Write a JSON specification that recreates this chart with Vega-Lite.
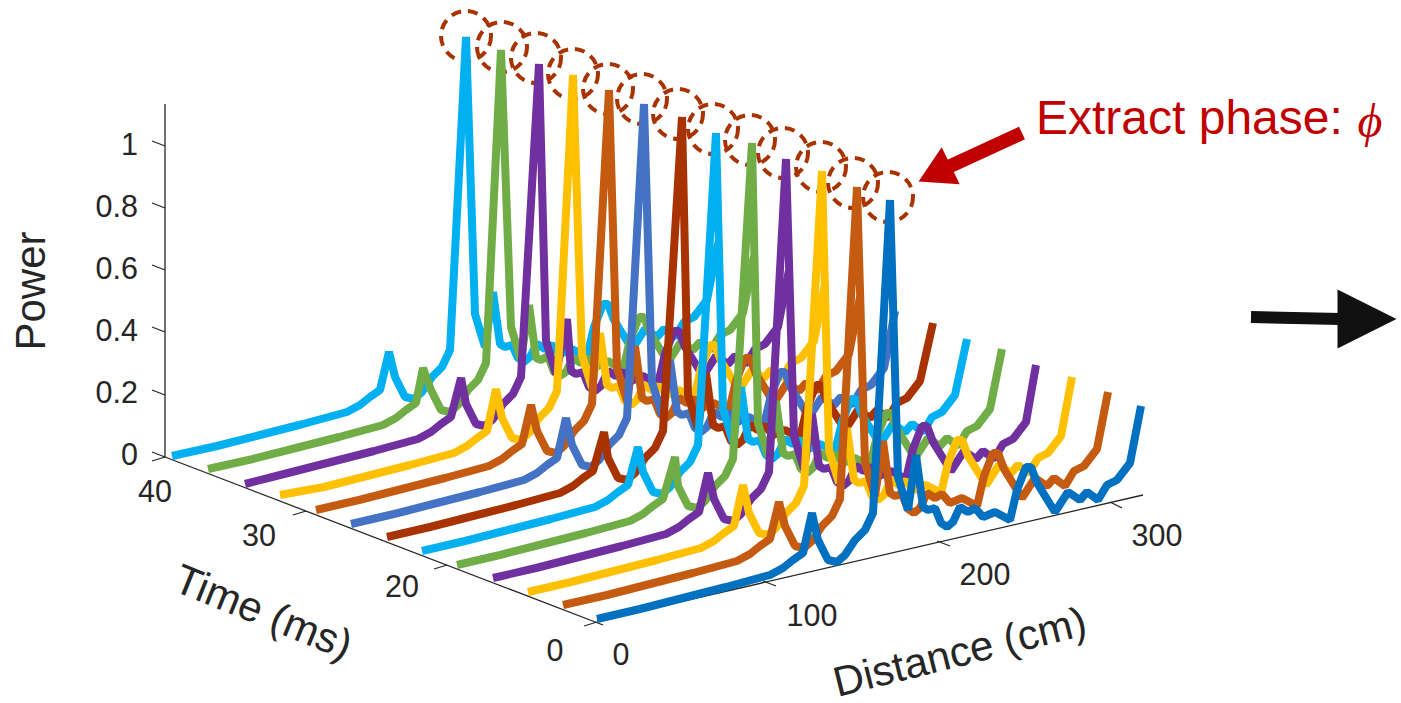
{"$schema":"https://vega.github.io/schema/vega-lite/v6.json","width":1401,"height":703,"padding":0,"autosize":{"type":"none"},"background":"white","config":{"view":{"stroke":null},"text":{"font":"Liberation Sans"}},
"datasets":{
"spectra":[
{"s":1,"x":172,"y":456},{"s":1,"x":217,"y":446},{"s":1,"x":260,"y":435},{"s":1,"x":303,"y":424},{"s":1,"x":347,"y":412},{"s":1,"x":360,"y":405},{"s":1,"x":370,"y":397},{"s":1,"x":380,"y":390},{"s":1,"x":389,"y":352},{"s":1,"x":395,"y":377},{"s":1,"x":405,"y":397},{"s":1,"x":414,"y":399},{"s":1,"x":422,"y":392},{"s":1,"x":432,"y":377},{"s":1,"x":442,"y":367},{"s":1,"x":450,"y":350},{"s":1,"x":466,"y":37},{"s":1,"x":475,"y":314},{"s":1,"x":485,"y":347},{"s":1,"x":493,"y":292},{"s":1,"x":500,"y":344},{"s":1,"x":505,"y":347},{"s":1,"x":512,"y":345},{"s":1,"x":518,"y":358},{"s":1,"x":524,"y":362},{"s":1,"x":530,"y":357},{"s":1,"x":537,"y":344},{"s":1,"x":545,"y":349},{"s":1,"x":552,"y":345},{"s":1,"x":560,"y":354},{"s":1,"x":572,"y":349},{"s":1,"x":587,"y":357},{"s":1,"x":594,"y":327},{"s":1,"x":603,"y":304},{"s":1,"x":608,"y":304},{"s":1,"x":614,"y":320},{"s":1,"x":632,"y":349},{"s":1,"x":645,"y":329},{"s":1,"x":657,"y":337},{"s":1,"x":664,"y":329},{"s":1,"x":675,"y":337},{"s":1,"x":684,"y":322},{"s":1,"x":694,"y":317},{"s":1,"x":707,"y":300},{"s":1,"x":718,"y":243},
{"s":2,"x":208,"y":469},{"s":2,"x":253,"y":459},{"s":2,"x":296,"y":448},{"s":2,"x":339,"y":437},{"s":2,"x":383,"y":425},{"s":2,"x":396,"y":418},{"s":2,"x":406,"y":410},{"s":2,"x":416,"y":403},{"s":2,"x":423,"y":368},{"s":2,"x":431,"y":390},{"s":2,"x":441,"y":410},{"s":2,"x":450,"y":412},{"s":2,"x":458,"y":405},{"s":2,"x":468,"y":390},{"s":2,"x":478,"y":380},{"s":2,"x":486,"y":363},{"s":2,"x":501,"y":50},{"s":2,"x":511,"y":327},{"s":2,"x":521,"y":360},{"s":2,"x":529,"y":305},{"s":2,"x":536,"y":358},{"s":2,"x":541,"y":360},{"s":2,"x":548,"y":356},{"s":2,"x":554,"y":372},{"s":2,"x":560,"y":376},{"s":2,"x":566,"y":372},{"s":2,"x":573,"y":358},{"s":2,"x":581,"y":363},{"s":2,"x":588,"y":358},{"s":2,"x":596,"y":367},{"s":2,"x":608,"y":361},{"s":2,"x":623,"y":370},{"s":2,"x":630,"y":340},{"s":2,"x":639,"y":317},{"s":2,"x":644,"y":317},{"s":2,"x":650,"y":333},{"s":2,"x":668,"y":362},{"s":2,"x":681,"y":342},{"s":2,"x":693,"y":350},{"s":2,"x":700,"y":342},{"s":2,"x":711,"y":350},{"s":2,"x":720,"y":335},{"s":2,"x":730,"y":330},{"s":2,"x":743,"y":313},{"s":2,"x":754,"y":256},
{"s":3,"x":245,"y":484},{"s":3,"x":288,"y":473},{"s":3,"x":331,"y":462},{"s":3,"x":374,"y":451},{"s":3,"x":418,"y":439},{"s":3,"x":431,"y":432},{"s":3,"x":441,"y":424},{"s":3,"x":451,"y":417},{"s":3,"x":461,"y":378},{"s":3,"x":466,"y":404},{"s":3,"x":476,"y":424},{"s":3,"x":485,"y":426},{"s":3,"x":493,"y":419},{"s":3,"x":503,"y":404},{"s":3,"x":513,"y":394},{"s":3,"x":521,"y":377},{"s":3,"x":539,"y":64},{"s":3,"x":546,"y":341},{"s":3,"x":556,"y":374},{"s":3,"x":567,"y":319},{"s":3,"x":571,"y":371},{"s":3,"x":576,"y":374},{"s":3,"x":583,"y":372},{"s":3,"x":589,"y":387},{"s":3,"x":595,"y":391},{"s":3,"x":601,"y":386},{"s":3,"x":608,"y":371},{"s":3,"x":616,"y":376},{"s":3,"x":623,"y":372},{"s":3,"x":631,"y":381},{"s":3,"x":643,"y":376},{"s":3,"x":658,"y":384},{"s":3,"x":665,"y":354},{"s":3,"x":674,"y":331},{"s":3,"x":679,"y":331},{"s":3,"x":685,"y":347},{"s":3,"x":703,"y":376},{"s":3,"x":716,"y":356},{"s":3,"x":728,"y":364},{"s":3,"x":735,"y":356},{"s":3,"x":746,"y":364},{"s":3,"x":755,"y":349},{"s":3,"x":765,"y":344},{"s":3,"x":778,"y":327},{"s":3,"x":789,"y":270},
{"s":4,"x":280,"y":495},{"s":4,"x":324,"y":487},{"s":4,"x":367,"y":476},{"s":4,"x":410,"y":465},{"s":4,"x":454,"y":453},{"s":4,"x":467,"y":446},{"s":4,"x":477,"y":438},{"s":4,"x":487,"y":431},{"s":4,"x":496,"y":389},{"s":4,"x":502,"y":418},{"s":4,"x":512,"y":438},{"s":4,"x":521,"y":440},{"s":4,"x":529,"y":433},{"s":4,"x":539,"y":418},{"s":4,"x":549,"y":408},{"s":4,"x":557,"y":391},{"s":4,"x":573,"y":75},{"s":4,"x":582,"y":355},{"s":4,"x":592,"y":388},{"s":4,"x":600,"y":333},{"s":4,"x":607,"y":385},{"s":4,"x":612,"y":388},{"s":4,"x":619,"y":386},{"s":4,"x":625,"y":401},{"s":4,"x":631,"y":405},{"s":4,"x":637,"y":400},{"s":4,"x":644,"y":385},{"s":4,"x":652,"y":390},{"s":4,"x":659,"y":386},{"s":4,"x":667,"y":395},{"s":4,"x":679,"y":390},{"s":4,"x":694,"y":398},{"s":4,"x":701,"y":368},{"s":4,"x":710,"y":345},{"s":4,"x":715,"y":345},{"s":4,"x":721,"y":361},{"s":4,"x":739,"y":390},{"s":4,"x":752,"y":370},{"s":4,"x":764,"y":378},{"s":4,"x":771,"y":370},{"s":4,"x":782,"y":378},{"s":4,"x":791,"y":363},{"s":4,"x":801,"y":358},{"s":4,"x":814,"y":341},{"s":4,"x":825,"y":284},
{"s":5,"x":316,"y":510},{"s":5,"x":359,"y":500},{"s":5,"x":402,"y":489},{"s":5,"x":445,"y":478},{"s":5,"x":489,"y":466},{"s":5,"x":502,"y":459},{"s":5,"x":512,"y":451},{"s":5,"x":522,"y":444},{"s":5,"x":531,"y":405},{"s":5,"x":537,"y":431},{"s":5,"x":547,"y":451},{"s":5,"x":556,"y":453},{"s":5,"x":564,"y":446},{"s":5,"x":574,"y":431},{"s":5,"x":584,"y":421},{"s":5,"x":592,"y":404},{"s":5,"x":609,"y":90},{"s":5,"x":617,"y":368},{"s":5,"x":627,"y":401},{"s":5,"x":635,"y":346},{"s":5,"x":642,"y":398},{"s":5,"x":647,"y":401},{"s":5,"x":654,"y":399},{"s":5,"x":660,"y":414},{"s":5,"x":666,"y":418},{"s":5,"x":672,"y":413},{"s":5,"x":679,"y":398},{"s":5,"x":687,"y":403},{"s":5,"x":694,"y":399},{"s":5,"x":702,"y":408},{"s":5,"x":714,"y":403},{"s":5,"x":729,"y":411},{"s":5,"x":736,"y":381},{"s":5,"x":745,"y":358},{"s":5,"x":750,"y":358},{"s":5,"x":756,"y":374},{"s":5,"x":774,"y":403},{"s":5,"x":787,"y":383},{"s":5,"x":799,"y":391},{"s":5,"x":806,"y":383},{"s":5,"x":817,"y":391},{"s":5,"x":826,"y":376},{"s":5,"x":836,"y":371},{"s":5,"x":849,"y":354},{"s":5,"x":860,"y":297},
{"s":6,"x":351,"y":524},{"s":6,"x":394,"y":514},{"s":6,"x":437,"y":503},{"s":6,"x":480,"y":492},{"s":6,"x":524,"y":480},{"s":6,"x":537,"y":473},{"s":6,"x":547,"y":465},{"s":6,"x":557,"y":458},{"s":6,"x":566,"y":418},{"s":6,"x":572,"y":445},{"s":6,"x":582,"y":465},{"s":6,"x":591,"y":467},{"s":6,"x":599,"y":460},{"s":6,"x":609,"y":445},{"s":6,"x":619,"y":435},{"s":6,"x":627,"y":418},{"s":6,"x":644,"y":104},{"s":6,"x":652,"y":382},{"s":6,"x":662,"y":415},{"s":6,"x":670,"y":360},{"s":6,"x":677,"y":412},{"s":6,"x":682,"y":415},{"s":6,"x":689,"y":413},{"s":6,"x":695,"y":428},{"s":6,"x":701,"y":432},{"s":6,"x":707,"y":427},{"s":6,"x":714,"y":412},{"s":6,"x":722,"y":417},{"s":6,"x":729,"y":413},{"s":6,"x":737,"y":422},{"s":6,"x":749,"y":417},{"s":6,"x":764,"y":425},{"s":6,"x":771,"y":395},{"s":6,"x":780,"y":372},{"s":6,"x":785,"y":372},{"s":6,"x":791,"y":388},{"s":6,"x":809,"y":417},{"s":6,"x":822,"y":397},{"s":6,"x":834,"y":405},{"s":6,"x":841,"y":397},{"s":6,"x":852,"y":405},{"s":6,"x":861,"y":390},{"s":6,"x":871,"y":385},{"s":6,"x":884,"y":368},{"s":6,"x":895,"y":311},
{"s":7,"x":387,"y":537},{"s":7,"x":430,"y":527},{"s":7,"x":473,"y":516},{"s":7,"x":516,"y":505},{"s":7,"x":560,"y":493},{"s":7,"x":573,"y":486},{"s":7,"x":583,"y":478},{"s":7,"x":593,"y":471},{"s":7,"x":604,"y":432},{"s":7,"x":608,"y":458},{"s":7,"x":618,"y":478},{"s":7,"x":627,"y":480},{"s":7,"x":635,"y":473},{"s":7,"x":645,"y":458},{"s":7,"x":655,"y":448},{"s":7,"x":663,"y":431},{"s":7,"x":682,"y":117},{"s":7,"x":688,"y":395},{"s":7,"x":698,"y":428},{"s":7,"x":706,"y":373},{"s":7,"x":713,"y":425},{"s":7,"x":718,"y":428},{"s":7,"x":725,"y":426},{"s":7,"x":731,"y":441},{"s":7,"x":737,"y":445},{"s":7,"x":743,"y":440},{"s":7,"x":750,"y":425},{"s":7,"x":758,"y":430},{"s":7,"x":765,"y":426},{"s":7,"x":773,"y":435},{"s":7,"x":785,"y":430},{"s":7,"x":800,"y":438},{"s":7,"x":807,"y":408},{"s":7,"x":816,"y":385},{"s":7,"x":821,"y":385},{"s":7,"x":827,"y":401},{"s":7,"x":845,"y":430},{"s":7,"x":858,"y":410},{"s":7,"x":870,"y":418},{"s":7,"x":877,"y":410},{"s":7,"x":888,"y":418},{"s":7,"x":897,"y":403},{"s":7,"x":907,"y":398},{"s":7,"x":920,"y":381},{"s":7,"x":933,"y":323},
{"s":8,"x":422,"y":551},{"s":8,"x":465,"y":541},{"s":8,"x":508,"y":530},{"s":8,"x":551,"y":519},{"s":8,"x":595,"y":507},{"s":8,"x":608,"y":500},{"s":8,"x":618,"y":492},{"s":8,"x":628,"y":485},{"s":8,"x":638,"y":447},{"s":8,"x":643,"y":472},{"s":8,"x":653,"y":492},{"s":8,"x":662,"y":494},{"s":8,"x":670,"y":487},{"s":8,"x":680,"y":472},{"s":8,"x":690,"y":462},{"s":8,"x":698,"y":445},{"s":8,"x":716,"y":133},{"s":8,"x":723,"y":409},{"s":8,"x":733,"y":442},{"s":8,"x":741,"y":387},{"s":8,"x":748,"y":439},{"s":8,"x":753,"y":442},{"s":8,"x":760,"y":440},{"s":8,"x":766,"y":455},{"s":8,"x":772,"y":459},{"s":8,"x":778,"y":454},{"s":8,"x":785,"y":439},{"s":8,"x":793,"y":444},{"s":8,"x":800,"y":440},{"s":8,"x":808,"y":449},{"s":8,"x":820,"y":444},{"s":8,"x":835,"y":452},{"s":8,"x":842,"y":422},{"s":8,"x":851,"y":399},{"s":8,"x":856,"y":399},{"s":8,"x":862,"y":415},{"s":8,"x":880,"y":444},{"s":8,"x":893,"y":424},{"s":8,"x":905,"y":432},{"s":8,"x":912,"y":424},{"s":8,"x":923,"y":432},{"s":8,"x":932,"y":417},{"s":8,"x":942,"y":412},{"s":8,"x":955,"y":395},{"s":8,"x":967,"y":339},
{"s":9,"x":457,"y":565},{"s":9,"x":500,"y":555},{"s":9,"x":543,"y":544},{"s":9,"x":586,"y":533},{"s":9,"x":630,"y":521},{"s":9,"x":643,"y":514},{"s":9,"x":653,"y":506},{"s":9,"x":663,"y":499},{"s":9,"x":675,"y":457},{"s":9,"x":678,"y":486},{"s":9,"x":688,"y":506},{"s":9,"x":697,"y":508},{"s":9,"x":705,"y":501},{"s":9,"x":715,"y":486},{"s":9,"x":725,"y":476},{"s":9,"x":733,"y":459},{"s":9,"x":752,"y":143},{"s":9,"x":758,"y":423},{"s":9,"x":768,"y":456},{"s":9,"x":776,"y":401},{"s":9,"x":783,"y":453},{"s":9,"x":788,"y":456},{"s":9,"x":795,"y":454},{"s":9,"x":801,"y":469},{"s":9,"x":807,"y":473},{"s":9,"x":813,"y":468},{"s":9,"x":820,"y":453},{"s":9,"x":828,"y":458},{"s":9,"x":835,"y":454},{"s":9,"x":843,"y":463},{"s":9,"x":855,"y":458},{"s":9,"x":870,"y":466},{"s":9,"x":877,"y":436},{"s":9,"x":886,"y":413},{"s":9,"x":891,"y":413},{"s":9,"x":897,"y":429},{"s":9,"x":915,"y":458},{"s":9,"x":928,"y":438},{"s":9,"x":940,"y":446},{"s":9,"x":947,"y":438},{"s":9,"x":958,"y":446},{"s":9,"x":967,"y":431},{"s":9,"x":977,"y":426},{"s":9,"x":990,"y":409},{"s":9,"x":1002,"y":349},
{"s":10,"x":493,"y":578},{"s":10,"x":536,"y":568},{"s":10,"x":579,"y":557},{"s":10,"x":622,"y":546},{"s":10,"x":666,"y":534},{"s":10,"x":679,"y":527},{"s":10,"x":689,"y":519},{"s":10,"x":699,"y":512},{"s":10,"x":708,"y":473},{"s":10,"x":714,"y":499},{"s":10,"x":724,"y":519},{"s":10,"x":733,"y":521},{"s":10,"x":741,"y":514},{"s":10,"x":751,"y":499},{"s":10,"x":761,"y":489},{"s":10,"x":769,"y":472},{"s":10,"x":786,"y":159},{"s":10,"x":794,"y":436},{"s":10,"x":804,"y":469},{"s":10,"x":812,"y":414},{"s":10,"x":819,"y":466},{"s":10,"x":824,"y":469},{"s":10,"x":831,"y":467},{"s":10,"x":837,"y":482},{"s":10,"x":843,"y":486},{"s":10,"x":849,"y":481},{"s":10,"x":856,"y":466},{"s":10,"x":864,"y":471},{"s":10,"x":871,"y":467},{"s":10,"x":879,"y":476},{"s":10,"x":891,"y":471},{"s":10,"x":906,"y":479},{"s":10,"x":913,"y":449},{"s":10,"x":922,"y":426},{"s":10,"x":927,"y":426},{"s":10,"x":933,"y":442},{"s":10,"x":951,"y":471},{"s":10,"x":964,"y":451},{"s":10,"x":976,"y":459},{"s":10,"x":983,"y":451},{"s":10,"x":994,"y":459},{"s":10,"x":1003,"y":444},{"s":10,"x":1013,"y":439},{"s":10,"x":1026,"y":422},{"s":10,"x":1036,"y":365},
{"s":11,"x":528,"y":592},{"s":11,"x":571,"y":582},{"s":11,"x":614,"y":571},{"s":11,"x":657,"y":560},{"s":11,"x":701,"y":548},{"s":11,"x":714,"y":541},{"s":11,"x":724,"y":533},{"s":11,"x":734,"y":526},{"s":11,"x":743,"y":485},{"s":11,"x":749,"y":513},{"s":11,"x":759,"y":533},{"s":11,"x":768,"y":535},{"s":11,"x":776,"y":528},{"s":11,"x":786,"y":513},{"s":11,"x":796,"y":503},{"s":11,"x":804,"y":486},{"s":11,"x":822,"y":171},{"s":11,"x":829,"y":450},{"s":11,"x":839,"y":483},{"s":11,"x":847,"y":428},{"s":11,"x":854,"y":480},{"s":11,"x":859,"y":483},{"s":11,"x":866,"y":481},{"s":11,"x":872,"y":496},{"s":11,"x":878,"y":500},{"s":11,"x":884,"y":495},{"s":11,"x":891,"y":480},{"s":11,"x":899,"y":485},{"s":11,"x":906,"y":481},{"s":11,"x":914,"y":490},{"s":11,"x":926,"y":485},{"s":11,"x":941,"y":493},{"s":11,"x":948,"y":463},{"s":11,"x":957,"y":440},{"s":11,"x":962,"y":440},{"s":11,"x":968,"y":456},{"s":11,"x":986,"y":485},{"s":11,"x":999,"y":465},{"s":11,"x":1011,"y":473},{"s":11,"x":1018,"y":465},{"s":11,"x":1029,"y":473},{"s":11,"x":1038,"y":458},{"s":11,"x":1048,"y":453},{"s":11,"x":1061,"y":436},{"s":11,"x":1072,"y":377},
{"s":12,"x":563,"y":605},{"s":12,"x":607,"y":595},{"s":12,"x":650,"y":584},{"s":12,"x":693,"y":573},{"s":12,"x":737,"y":561},{"s":12,"x":750,"y":554},{"s":12,"x":760,"y":546},{"s":12,"x":770,"y":539},{"s":12,"x":779,"y":502},{"s":12,"x":785,"y":526},{"s":12,"x":795,"y":546},{"s":12,"x":804,"y":548},{"s":12,"x":812,"y":541},{"s":12,"x":822,"y":526},{"s":12,"x":832,"y":516},{"s":12,"x":840,"y":499},{"s":12,"x":857,"y":187},{"s":12,"x":865,"y":463},{"s":12,"x":875,"y":496},{"s":12,"x":883,"y":441},{"s":12,"x":890,"y":493},{"s":12,"x":895,"y":496},{"s":12,"x":902,"y":494},{"s":12,"x":908,"y":509},{"s":12,"x":914,"y":513},{"s":12,"x":920,"y":508},{"s":12,"x":927,"y":493},{"s":12,"x":935,"y":498},{"s":12,"x":942,"y":494},{"s":12,"x":950,"y":503},{"s":12,"x":962,"y":498},{"s":12,"x":977,"y":506},{"s":12,"x":984,"y":476},{"s":12,"x":993,"y":453},{"s":12,"x":998,"y":453},{"s":12,"x":1004,"y":469},{"s":12,"x":1022,"y":498},{"s":12,"x":1035,"y":478},{"s":12,"x":1047,"y":486},{"s":12,"x":1054,"y":478},{"s":12,"x":1065,"y":486},{"s":12,"x":1074,"y":471},{"s":12,"x":1084,"y":466},{"s":12,"x":1097,"y":449},{"s":12,"x":1108,"y":392},
{"s":13,"x":597,"y":619},{"s":13,"x":640,"y":609},{"s":13,"x":683,"y":598},{"s":13,"x":726,"y":587},{"s":13,"x":770,"y":575},{"s":13,"x":783,"y":568},{"s":13,"x":793,"y":560},{"s":13,"x":803,"y":553},{"s":13,"x":812,"y":513},{"s":13,"x":818,"y":540},{"s":13,"x":828,"y":560},{"s":13,"x":837,"y":562},{"s":13,"x":845,"y":555},{"s":13,"x":855,"y":540},{"s":13,"x":865,"y":530},{"s":13,"x":873,"y":513},{"s":13,"x":890,"y":200},{"s":13,"x":898,"y":477},{"s":13,"x":908,"y":510},{"s":13,"x":916,"y":455},{"s":13,"x":923,"y":507},{"s":13,"x":928,"y":510},{"s":13,"x":935,"y":508},{"s":13,"x":941,"y":523},{"s":13,"x":947,"y":527},{"s":13,"x":953,"y":522},{"s":13,"x":960,"y":507},{"s":13,"x":968,"y":512},{"s":13,"x":975,"y":508},{"s":13,"x":983,"y":517},{"s":13,"x":995,"y":512},{"s":13,"x":1010,"y":520},{"s":13,"x":1017,"y":490},{"s":13,"x":1026,"y":467},{"s":13,"x":1031,"y":467},{"s":13,"x":1037,"y":483},{"s":13,"x":1055,"y":512},{"s":13,"x":1068,"y":492},{"s":13,"x":1080,"y":500},{"s":13,"x":1087,"y":492},{"s":13,"x":1098,"y":500},{"s":13,"x":1107,"y":485},{"s":13,"x":1117,"y":480},{"s":13,"x":1130,"y":463},{"s":13,"x":1141,"y":406}
],
"axisLines":[
{"x":165,"y":104,"x2":165,"y2":457},{"x":165,"y":457,"x2":603,"y2":625},{"x":597,"y":621,"x2":1143,"y2":495},
{"x":152,"y":141,"x2":165,"y2":146},{"x":152,"y":203,"x2":165,"y2":208},{"x":152,"y":265,"x2":165,"y2":270},{"x":152,"y":327,"x2":165,"y2":332},{"x":152,"y":390,"x2":165,"y2":395},{"x":152,"y":452,"x2":165,"y2":457},
{"x":152,"y":461,"x2":165,"y2":457},{"x":293,"y":515,"x2":306,"y2":511},{"x":434,"y":569,"x2":447,"y2":565},{"x":584,"y":626,"x2":597,"y2":622},
{"x":763,"y":581,"x2":776,"y2":586},{"x":937,"y":541,"x2":950,"y2":546},{"x":1110,"y":502,"x2":1122,"y2":508}
],
"tickLabels":[
{"label":"1","x":138,"y":146,"a":"right"},{"label":"0.8","x":138,"y":208,"a":"right"},{"label":"0.6","x":138,"y":270,"a":"right"},{"label":"0.4","x":138,"y":332,"a":"right"},{"label":"0.2","x":138,"y":394,"a":"right"},{"label":"0","x":138,"y":456,"a":"right"},
{"label":"40","x":155,"y":493,"a":"center"},{"label":"30","x":259,"y":537,"a":"center"},{"label":"20","x":402,"y":588,"a":"center"},{"label":"0","x":555,"y":652,"a":"center"},
{"label":"0","x":621,"y":656,"a":"center"},{"label":"100","x":812,"y":617,"a":"center"},{"label":"200","x":985,"y":576,"a":"center"},{"label":"300","x":1157,"y":537,"a":"center"}
],
"rings":[{"x":466,"y":36},{"x":502,"y":47},{"x":536,"y":58},{"x":573,"y":74},{"x":608,"y":89},{"x":642,"y":99},{"x":678,"y":114},{"x":713,"y":129},{"x":750,"y":140},{"x":783,"y":153},{"x":821,"y":167},{"x":853,"y":183},{"x":888,"y":197}]
},
"encoding":{
"x":{"field":"x","type":"quantitative","scale":{"domain":[0,1401],"nice":false,"zero":false},"axis":null},
"y":{"field":"y","type":"quantitative","scale":{"domain":[703,0],"nice":false,"zero":false},"axis":null}
},
"layer":[
{"data":{"name":"axisLines"},"mark":{"type":"rule","color":"#262626","strokeWidth":1.3},"encoding":{"x2":{"field":"x2"},"y2":{"field":"y2"}}},
{"data":{"name":"tickLabels"},"transform":[{"filter":"datum.a==='right'"}],"mark":{"type":"text","fontSize":30.5,"align":"right","baseline":"middle","color":"#262626"},"encoding":{"text":{"field":"label"}}},
{"data":{"name":"tickLabels"},"transform":[{"filter":"datum.a==='center'"}],"mark":{"type":"text","fontSize":30.5,"align":"center","baseline":"middle","color":"#262626"},"encoding":{"text":{"field":"label"}}},
{"data":{"values":[{"label":"Power","x":32,"y":291}]},"mark":{"type":"text","fontSize":42,"angle":270,"align":"center","baseline":"middle","color":"#262626"},"encoding":{"text":{"field":"label"}}},
{"data":{"values":[{"label":"Time (ms)","x":263,"y":613}]},"mark":{"type":"text","fontSize":42,"angle":22,"align":"center","baseline":"middle","color":"#262626"},"encoding":{"text":{"field":"label"}}},
{"data":{"values":[{"label":"Distance (cm)","x":960,"y":653}]},"mark":{"type":"text","fontSize":42,"angle":346,"align":"center","baseline":"middle","color":"#262626"},"encoding":{"text":{"field":"label"}}},
{"data":{"name":"rings"},"mark":{"type":"point","shape":"circle","filled":false,"size":2500,"stroke":"#A83200","strokeWidth":4,"strokeDash":[10,7],"opacity":1}},
{"data":{"name":"spectra"},"mark":{"type":"line","strokeWidth":8,"strokeJoin":"bevel","strokeCap":"butt"},"encoding":{"color":{"field":"s","type":"nominal","legend":null,"scale":{"domain":[1,2,3,4,5,6,7,8,9,10,11,12,13],"range":["#00B0F0","#70AD47","#7030A0","#FFC000","#C55A11","#4472C4","#A83200","#00B0F0","#70AD47","#7030A0","#FFC000","#C55A11","#0070C0"]}}}},
{"data":{"values":[{"x":1022,"y":133,"x2":946,"y2":168}]},"mark":{"type":"rule","color":"#C00000","strokeWidth":14},"encoding":{"x2":{"field":"x2"},"y2":{"field":"y2"}}},
{"data":{"values":[{"x":940,"y":171}]},"mark":{"type":"point","shape":"triangle","filled":true,"size":1700,"angle":244,"color":"#C00000","opacity":1}},
{"data":{"values":[{"x":1251,"y":317,"x2":1340,"y2":319}]},"mark":{"type":"rule","color":"#111111","strokeWidth":12},"encoding":{"x2":{"field":"x2"},"y2":{"field":"y2"}}},
{"data":{"values":[{"x":1367,"y":319}]},"mark":{"type":"point","shape":"M-1,-1L1,0L-1,1Z","filled":true,"size":3481,"color":"#111111","opacity":1}},
{"data":{"values":[{"label":"Extract phase:","x":1036,"y":120}]},"mark":{"type":"text","fontSize":48,"align":"left","baseline":"middle","color":"#C00000"},"encoding":{"text":{"field":"label"}}},
{"data":{"values":[{"label":"ϕ","x":1370,"y":123}]},"mark":{"type":"text","fontSize":48,"font":"Liberation Serif","fontStyle":"italic","align":"center","baseline":"middle","color":"#C00000"},"encoding":{"text":{"field":"label"}}}
]}
